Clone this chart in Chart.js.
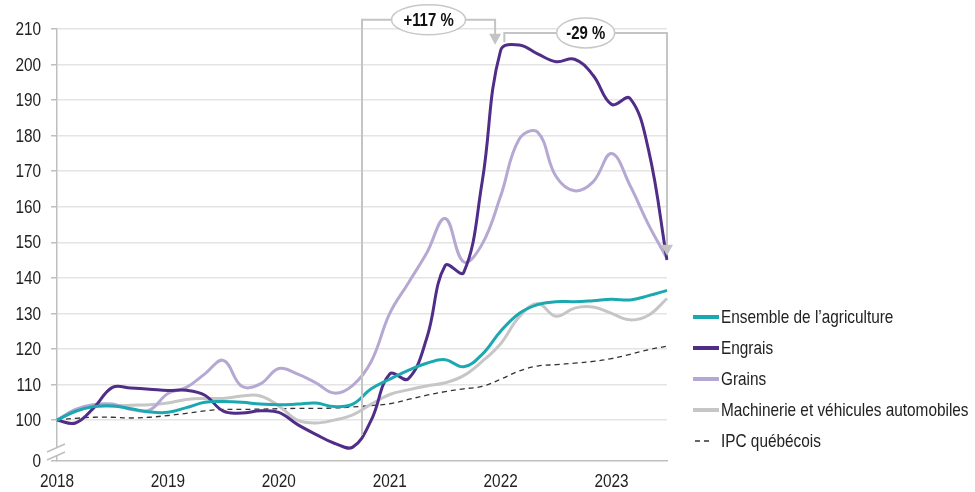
<!DOCTYPE html>
<html lang="fr">
<head>
<meta charset="utf-8">
<script src="https://cdn.jsdelivr.net/npm/chart.js@4"></script>
<style>
  body { margin: 0; background: #fff; }
  #wrap { width: 975px; height: 492px; }
</style>
</head>
<body>
<div id="wrap"><canvas id="main"></canvas></div>
<script>
// mois (aux 2 mois), de janv. 2018 à juil. 2023
const mois = ['2018-01','2018-03','2018-05','2018-07','2018-09','2018-11',
              '2019-01','2019-03','2019-05','2019-07','2019-09','2019-11',
              '2020-01','2020-03','2020-05','2020-07','2020-09','2020-11',
              '2021-01','2021-03','2021-05','2021-07','2021-09','2021-11',
              '2022-01','2022-03','2022-05','2022-07','2022-09','2022-11',
              '2023-01','2023-03','2023-05','2023-07'];

const ensemble   = [100, 102.5, 103.8, 104, 103.2, 102.3, 102.2, 103.5, 105, 105.2, 105, 104.5,
                    104.3, 104.5, 104.8, 103.8, 104.5, 108.8, 111.5, 114, 116, 117, 115, 118.5,
                    125, 130, 132.5, 133.3, 133.3, 133.6, 134, 133.8, 135, 136.5];
const engrais    = [100, 99.2, 103.5, 109.2, 109, 108.7, 108.3, 108.4, 107, 102.5, 102, 102.6,
                    102.2, 98.8, 96, 93.5, 92.4, 100, 113, 111.6, 123, 143.5, 141.5, 167,
                    204, 205.5, 203, 200.8, 201.5, 197, 188.8, 190.5, 176, 145];
const grains     = [100, 103, 104.4, 104.5, 103, 102.8, 107.5, 109.2, 113, 116.8, 109.5, 110.2,
                    114.5, 113, 110.5, 107.6, 109.8, 116.5, 130, 138.5, 147, 156.7, 144.5, 149.5,
                    163, 179, 181, 168.5, 164.5, 167, 175, 166, 155, 145.5];
const machinerie = [100, 102.5, 103.8, 104, 104.2, 104.3, 104.8, 105.8, 106.1, 106.1, 106.8, 106.8,
                    104, 100, 99.2, 100, 101.5, 104.5, 107.2, 108.5, 109.6, 110.5, 112.5, 116.5,
                    121.5, 129, 132.8, 129.2, 131.5, 131.8, 130, 128.2, 129.5, 134.2];
const ipc        = [100, 100.5, 100.8, 100.8, 100.6, 100.8, 101.3, 101.9, 102.6, 103, 103, 103.1,
                    103.2, 103.3, 103.3, 103.4, 103.7, 104.1, 104.6, 105.8, 107, 108, 108.8, 109.5,
                    111.5, 113.8, 115.2, 115.6, 116, 116.5, 117.3, 118.5, 119.8, 120.8];

// axe coupé : le bas de l'axe (88.5) porte l'étiquette 0
const yBas = 88.5;
const yTicks  = [88.5, 100, 110, 120, 130, 140, 150, 160, 170, 180, 190, 200, 210];
const yLabels = ['0', '100', '110', '120', '130', '140', '150', '160', '170', '180', '190', '200', '210'];

// flèches de variation (indices de mois, valeurs de l'axe y)
const hausse = { texte: '+117 %', de: 16.5, a: 23.7, haut: 212.6, pied: 95.8, pointe: 205.6 };
const baisse = { texte: '-29 %', de: 24.2, a: 33, haut: 208.9, pied: 206.3, pointe: 146.2 };

const police = '"Liberation Sans", Arial, sans-serif';
const gris = '#c4c4c4';

// texte un peu étroit (comme Arial Narrow)
function texte(ctx, str, x, y, align, font) {
    ctx.save();
    ctx.translate(x, y);
    ctx.scale(0.83, 1);
    ctx.font = font;
    ctx.textAlign = align;
    ctx.textBaseline = 'middle';
    ctx.fillText(str, 0, 0);
    ctx.restore();
}

const annotations = {
    id: 'annotations',
    afterDraw(chart) {
        const ctx = chart.ctx, x = chart.scales.x, y = chart.scales.y;
        const area = chart.chartArea;
        ctx.save();

        // étiquettes des axes
        ctx.fillStyle = '#222';
        y.ticks.forEach((t, i) => {
            texte(ctx, yLabels[i], area.left - 16, y.getPixelForValue(t.value) + 1, 'right', '18.5px ' + police);
        });
        mois.forEach((m, i) => {
            if (m.endsWith('-01'))
                texte(ctx, m.slice(0, 4), x.getPixelForValue(i), area.bottom + 21, 'center', '18.5px ' + police);
        });

        // coupure de l'axe
        const ax = area.left;
        ctx.fillStyle = '#fff';
        ctx.beginPath();
        ctx.moveTo(ax - 10, 452); ctx.lineTo(ax + 8, 444);
        ctx.lineTo(ax + 8, 452); ctx.lineTo(ax - 10, 460);
        ctx.closePath(); ctx.fill();
        ctx.strokeStyle = '#bfbfbf'; ctx.lineWidth = 1.5;
        ctx.beginPath();
        ctx.moveTo(ax - 10, 452); ctx.lineTo(ax + 8, 444);
        ctx.moveTo(ax - 10, 460); ctx.lineTo(ax + 8, 452);
        ctx.stroke();

        // crochets
        function fleche(px, py) {
            ctx.fillStyle = gris;
            ctx.beginPath();
            ctx.moveTo(px, py); ctx.lineTo(px - 6, py - 11); ctx.lineTo(px + 6, py - 11);
            ctx.closePath(); ctx.fill();
        }
        function bulle(cx, cy, rx, str) {
            ctx.fillStyle = '#fff'; ctx.strokeStyle = '#c8c8c8'; ctx.lineWidth = 1.5;
            ctx.beginPath(); ctx.ellipse(cx, cy, rx, 15, 0, 0, Math.PI * 2);
            ctx.fill(); ctx.stroke();
            ctx.fillStyle = '#111';
            texte(ctx, str, cx, cy + 1, 'center', 'bold 18px ' + police);
        }
        for (const b of [hausse, baisse]) {
            const x1 = x.getPixelForValue(b.de), x2 = x.getPixelForValue(b.a);
            const yh = y.getPixelForValue(b.haut), yp = y.getPixelForValue(b.pied);
            const yt = y.getPixelForValue(b.pointe);
            ctx.strokeStyle = gris; ctx.lineWidth = 2;
            ctx.beginPath();
            ctx.moveTo(x1, yp); ctx.lineTo(x1, yh); ctx.lineTo(x2, yh); ctx.lineTo(x2, yt - 10);
            ctx.stroke();
            fleche(x2, yt);
            bulle((x1 + x2) / 2, yh, b === hausse ? 37 : 29, b.texte);
        }

        // légende
        const lx = 693, ly = 317, pas = 31;
        chart.data.datasets.forEach((ds, i) => {
            const yy = ly + i * pas;
            ctx.strokeStyle = ds.borderColor;
            ctx.lineWidth = ds.borderDash ? 1.5 : 4;
            ctx.setLineDash(ds.borderDash || []);
            ctx.beginPath();
            ctx.moveTo(lx + (ds.borderDash ? 2 : 0), yy);
            ctx.lineTo(lx + (ds.borderDash ? 20 : 26), yy);
            ctx.stroke();
            ctx.setLineDash([]);
            ctx.fillStyle = '#222';
            texte(ctx, ds.label, lx + 28, yy + 1, 'left', '18.5px ' + police);
        });
        ctx.restore();
    }
};

window.onload = function() {
    const main = document.getElementById('main').getContext('2d');
    new Chart(main, {
        type: 'line',
        data: {
            labels: mois,
            datasets: [
                { label: 'Ensemble de l\u2019agriculture', data: ensemble, borderColor: '#1ba8b1', borderWidth: 3 },
                { label: 'Engrais', data: engrais, borderColor: '#4f2d88', borderWidth: 3 },
                { label: 'Grains', data: grains, borderColor: '#b5a8d3', borderWidth: 3 },
                { label: 'Machinerie et véhicules automobiles', data: machinerie, borderColor: '#c6c6c6', borderWidth: 3 },
                { label: 'IPC québécois', data: ipc, borderColor: '#333', borderWidth: 1.3, borderDash: [5, 4] }
            ]
        },
        options: {
            responsive: true,
            maintainAspectRatio: false,
            animation: false,
            layout: { padding: { top: 29, right: 308, bottom: 0, left: 0 } },
            elements: { point: { radius: 0 }, line: { tension: 0.4 } },
            plugins: { legend: { display: false }, tooltip: { enabled: false } },
            scales: {
                x: {
                    type: 'category',
                    afterFit: s => { s.height = 31; },
                    grid: { display: false },
                    border: { color: '#bfbfbf', width: 1.5 },
                    ticks: { display: false }
                },
                y: {
                    min: yBas, max: 210,
                    afterFit: s => { s.width = 57; },
                    afterBuildTicks: s => { s.ticks = yTicks.map(v => ({ value: v })); },
                    grid: {
                        color: c => c.tick && c.tick.value === yBas ? 'rgba(0,0,0,0)' : '#e4e4e4',
                        lineWidth: 1.5, tickLength: 6, tickColor: '#bfbfbf'
                    },
                    border: { color: '#bfbfbf', width: 1.5 },
                    ticks: { display: false }
                }
            }
        },
        plugins: [annotations]
    });
};
</script>
</body>
</html>
